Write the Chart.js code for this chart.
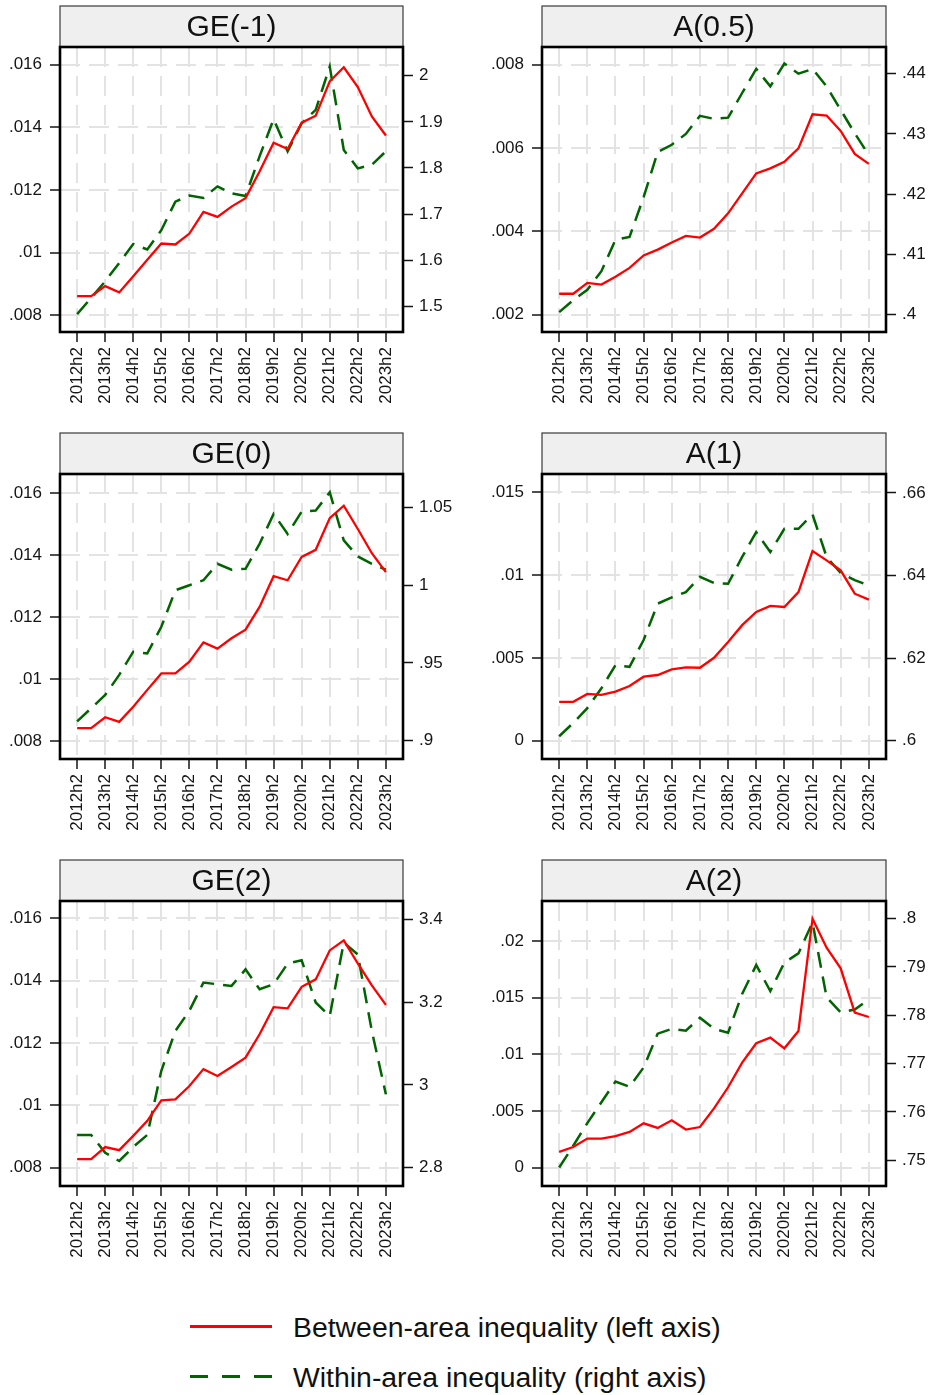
<!DOCTYPE html>
<html>
<head>
<meta charset="utf-8">
<script src="https://cdn.jsdelivr.net/npm/chart.js@4.4.1/dist/chart.umd.min.js"></script>
<style>
  body { margin: 0; background: #fff; }
  #page { position: relative; width: 930px; height: 1395px; font-family: "Liberation Sans", Arial, sans-serif; }
  #page canvas { position: absolute; }
  .key { position: absolute; left: 190px; width: 82px; height: 3px; }
  .keytext { position: absolute; left: 293px; font-size: 28.4px; line-height: 28px; color: #111; white-space: nowrap; }
</style>
</head>
<body>
<div id="page">
  <canvas id="c0" width="465" height="427" style="left:0;top:0"></canvas>
  <canvas id="c1" width="465" height="427" style="left:465px;top:0"></canvas>
  <canvas id="c2" width="465" height="427" style="left:0;top:427px"></canvas>
  <canvas id="c3" width="465" height="427" style="left:465px;top:427px"></canvas>
  <canvas id="c4" width="465" height="427" style="left:0;top:854px"></canvas>
  <canvas id="c5" width="465" height="427" style="left:465px;top:854px"></canvas>

  <div class="key" style="top:1325px;background:#ff0000"></div>
  <div class="keytext" style="top:1313px">Between-area inequality (left axis)</div>
  <div class="key" style="top:1375px;background:repeating-linear-gradient(to right,#006400 0 18px,transparent 18px 32px)"></div>
  <div class="keytext" style="top:1363px">Within-area inequality (right axis)</div>
</div>
<script>
// half-year periods on the x axis
const periods = ['2012h2','2013h1','2013h2','2014h1','2014h2','2015h1','2015h2','2016h1','2016h2',
  '2017h1','2017h2','2018h1','2018h2','2019h1','2019h2','2020h1','2020h2','2021h1','2021h2',
  '2022h1','2022h2','2023h1','2023h2'];
const tickLabels = ['2012h2','2013h2','2014h2','2015h2','2016h2','2017h2','2018h2','2019h2',
  '2020h2','2021h2','2022h2','2023h2'];

// GE(-1)
const geM1Between = [.00861, .00861, .00893, .00873, .00925, .00977, .01029, .01026, .01061, .0113, .01114,
  .01147, .01174, .01259, .01351, .01331, .01415, .01437, .01547, .01592, .01529, .01435, .01374];
const geM1Within = [1.483, 1.518, 1.554, 1.594, 1.635, 1.623, 1.665, 1.727, 1.740, 1.735, 1.760,
  1.745, 1.739, 1.825, 1.906, 1.836, 1.897, 1.926, 2.020, 1.839, 1.799, 1.807, 1.836];
const geM1LeftTicks = [.008, .01, .012, .014, .016];
const geM1RightTicks = [1.5, 1.6, 1.7, 1.8, 1.9, 2];

// A(0.5)
const a05Between = [.00250, .00250, .00276, .00272, .00291, .00312, .00342, .00356, .00373, .00389, .00385,
  .00406, .00443, .00491, .00539, .00551, .00567, .00599, .00681, .00678, .00641, .00586, .00562];
const a05Within = [.4004, .4024, .4041, .4072, .4124, .4129, .4195, .4270, .4282, .4300, .4330,
  .4325, .4327, .4368, .4408, .4379, .4417, .4400, .4408, .4379, .4340, .4301, .4265];
const a05LeftTicks = [.002, .004, .006, .008];
const a05RightTicks = [.4, .41, .42, .43, .44];

// GE(0)
const ge0Between = [.00843, .00843, .00878, .00863, .00912, .00966, .01019, .01019, .01057, .01119, .01099,
  .01132, .0116, .01233, .01332, .01319, .01394, .01417, .01519, .01559, .01484, .01406, .01345];
const ge0Within = [.9124, .9209, .9294, .9423, .9572, .9561, .9732, .9967, .9999, 1.0031, 1.0137,
  1.0099, 1.0105, 1.0265, 1.0457, 1.0329, 1.0472, 1.0479, 1.0596, 1.0287, 1.0184, 1.0137, 1.0099];
const ge0LeftTicks = [.008, .01, .012, .014, .016];
const ge0RightTicks = [.9, .95, 1, 1.05];

// A(1)
const a1Between = [.00235, .00235, .00283, .00277, .00297, .00331, .00387, .00397, .00431, .00443, .00441,
  .00501, .00596, .00698, .00778, .00814, .00808, .00898, .01145, .01089, .01029, .00888, .00852];
const a1Within = [.6011, .6043, .6079, .6127, .6183, .6179, .6244, .6332, .6347, .6360, .6397,
  .6382, .6380, .6445, .6505, .6457, .6513, .6513, .6548, .6445, .6406, .6389, .6376];
const a1LeftTicks = [0, .005, .01, .015];
const a1RightTicks = [.6, .62, .64, .66];

// GE(2)
const ge2Between = [.00827, .00827, .00866, .00856, .00902, .0095, .01016, .01019, .01062, .01116, .01094,
  .01123, .01153, .01228, .01315, .01311, .0138, .01404, .01497, .01529, .01455, .01385, .01322];
const ge2Within = [2.879, 2.879, 2.836, 2.816, 2.850, 2.879, 3.034, 3.130, 3.179, 3.247, 3.243,
  3.239, 3.279, 3.231, 3.243, 3.293, 3.301, 3.199, 3.166, 3.344, 3.315, 3.130, 2.977];
const ge2LeftTicks = [.008, .01, .012, .014, .016];
const ge2RightTicks = [2.8, 3, 3.2, 3.4];

// A(2)
const a2Between = [.00139, .00182, .00256, .00256, .00277, .00315, .00391, .0035, .00417, .00336, .00358,
  .00522, .00709, .00926, .01097, .01147, .01053, .01206, .02197, .01941, .01759, .01368, .01329];
const a2Within = [.7485, .7530, .7577, .7620, .7663, .7652, .7692, .7762, .7772, .7768, .7795,
  .7772, .7764, .7844, .7904, .7850, .7909, .7928, .7992, .7837, .7806, .7812, .7833];
const a2LeftTicks = [0, .005, .01, .015, .02];
const a2RightTicks = [.75, .76, .77, .78, .79, .8];

const panels = [
  { id: 'c0', title: 'GE(-1)', between: geM1Between, within: geM1Within, lt: geM1LeftTicks, rt: geM1RightTicks,
    left: [.007466, .016566], right: [1.4441, 2.0624], col: 0 },
  { id: 'c1', title: 'A(0.5)', between: a05Between, within: a05Within, lt: a05LeftTicks, rt: a05RightTicks,
    left: [.001581, .008426], right: [.3971, .44444], col: 1 },
  { id: 'c2', title: 'GE(0)', between: ge0Between, within: ge0Within, lt: ge0LeftTicks, rt: ge0RightTicks,
    left: [.007435, .01661], right: [.88828, 1.07138], col: 0 },
  { id: 'c3', title: 'A(1)', between: a1Between, within: a1Within, lt: a1LeftTicks, rt: a1RightTicks,
    left: [-.001101, .016107], right: [.59559, .66458], col: 1 },
  { id: 'c4', title: 'GE(2)', between: ge2Between, within: ge2Within, lt: ge2LeftTicks, rt: ge2RightTicks,
    left: [.00741, .016555], right: [2.75554, 3.4442], col: 0 },
  { id: 'c5', title: 'A(2)', between: a2Between, within: a2Within, lt: a2LeftTicks, rt: a2RightTicks,
    left: [-.001624, .02353], right: [.74468, .80364], col: 1 }
];

const FONT = '"Liberation Sans", Arial, sans-serif';
const gridColor = '#e3e3e3';
const tickInk = '#151515';
const fmt = v => String(v).replace(/^0\./, '.');
const xTickIdx = tickLabels.map(l => periods.indexOf(l));

function panelDecor(title) {
  return {
    id: 'panelDecor',
    afterDraw(chart) {
      const { ctx, chartArea: a } = chart;
      const w = a.right - a.left;
      ctx.save();
      ctx.fillStyle = '#efefef';
      ctx.fillRect(a.left, 6, w, a.top - 6);
      ctx.strokeStyle = '#3a3a3a';
      ctx.lineWidth = 1.2;
      ctx.strokeRect(a.left, 6, w, a.top - 6);
      ctx.fillStyle = '#111';
      ctx.font = '30px ' + FONT;
      ctx.textAlign = 'center';
      ctx.textBaseline = 'middle';
      ctx.fillText(title, (a.left + a.right) / 2, (6 + a.top) / 2 + 1);
      ctx.strokeStyle = '#000';
      ctx.lineWidth = 2.6;
      ctx.strokeRect(a.left, a.top, w, a.bottom - a.top);
      ctx.restore();
    }
  };
}

function makePanel(p) {
  const leftW = p.col === 0 ? 60 : 77;
  const rightW = p.col === 0 ? 62 : 44;
  new Chart(document.getElementById(p.id), {
    type: 'line',
    data: {
      datasets: [
        {
          label: 'Between-area inequality (left axis)',
          data: p.between.map((v, i) => ({ x: i, y: v })),
          yAxisID: 'y',
          borderColor: '#ff0000',
          borderWidth: 2.3,
          pointRadius: 0,
          tension: 0
        },
        {
          label: 'Within-area inequality (right axis)',
          data: p.within.map((v, i) => ({ x: i, y: v })),
          yAxisID: 'y2',
          borderColor: '#006400',
          borderWidth: 2.5,
          borderDash: [16, 9],
          pointRadius: 0,
          tension: 0
        }
      ]
    },
    options: {
      responsive: false,
      animation: false,
      layout: { padding: { top: 47, left: 0, right: 0, bottom: 0 } },
      plugins: { legend: { display: false }, tooltip: { enabled: false } },
      scales: {
        x: {
          type: 'linear',
          min: -1.22,
          max: 23.22,
          afterBuildTicks: s => { s.ticks = xTickIdx.map(v => ({ value: v })); },
          afterFit: s => { s.height = 95; },
          ticks: {
            autoSkip: false, minRotation: 90, maxRotation: 90, padding: 5,
            color: tickInk, font: { family: FONT, size: 17 },
            callback: v => periods[v]
          },
          grid: { color: gridColor, lineWidth: 2, tickLength: 10, tickColor: tickInk, tickWidth: 1.5 },
          border: { display: false, dash: [20, 9] }
        },
        y: {
          position: 'left',
          min: p.left[0],
          max: p.left[1],
          afterBuildTicks: s => { s.ticks = p.lt.map(v => ({ value: v })); },
          afterFit: s => { s.width = leftW; },
          ticks: { autoSkip: false, padding: 8, color: tickInk, font: { family: FONT, size: 17 }, callback: v => fmt(v) },
          grid: { color: gridColor, lineWidth: 2, tickLength: 10, tickColor: tickInk, tickWidth: 1.5 },
          border: { display: false, dash: [20, 9] }
        },
        y2: {
          position: 'right',
          min: p.right[0],
          max: p.right[1],
          afterBuildTicks: s => { s.ticks = p.rt.map(v => ({ value: v })); },
          afterFit: s => { s.width = rightW; },
          ticks: { autoSkip: false, padding: 6, color: tickInk, font: { family: FONT, size: 17 }, callback: v => fmt(v) },
          grid: { drawOnChartArea: false, tickLength: 10, tickColor: tickInk, tickWidth: 1.5 },
          border: { display: false }
        }
      }
    },
    plugins: [panelDecor(p.title)]
  });
}

panels.forEach(makePanel);
</script>
</body>
</html>
